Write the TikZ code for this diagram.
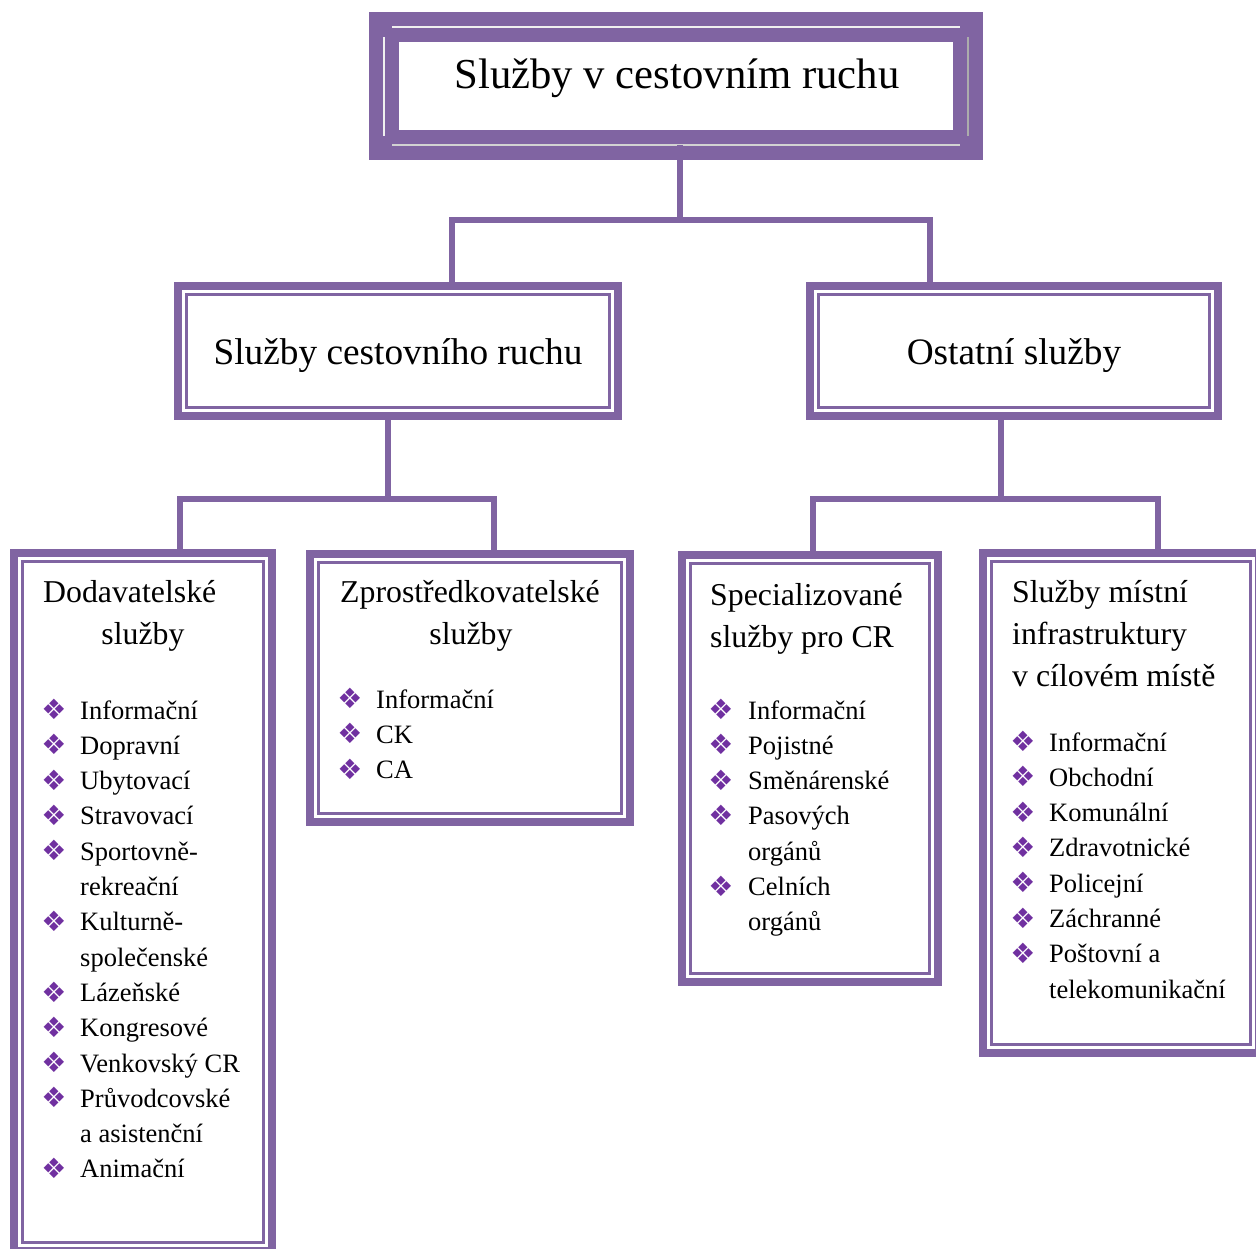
\documentclass[tikz,border=0pt]{standalone}
\usepackage{fontspec}
\setmainfont{Liberation Serif}
\newfontfamily\symfont{DejaVu Sans}
\definecolor{boxpurple}{HTML}{8064A2}
\definecolor{markpurple}{HTML}{7030A0}
\tikzset{
  outerbox/.style={draw=boxpurple, line width=8pt, fill=white, inner sep=0pt, outer sep=0pt},
  topbox/.style={draw=boxpurple, line width=30pt, fill=white, inner sep=0pt, outer sep=0pt},
  innerline/.style={draw=boxpurple, line width=2.5pt},
  hilite/.style={line width=2pt, white!88!gray},
  shade/.style={line width=2pt, gray!65},
  link/.style={draw=boxpurple, line width=6pt},
  titletext/.style={font=\fontsize{42.7}{50}\selectfont, anchor=base, inner sep=0pt},
  midtext/.style={font=\fontsize{37.3}{44}\selectfont, anchor=base, inner sep=0pt},
  headtext/.style={font=\fontsize{31.8}{42}\selectfont, inner sep=0pt},
  itemtext/.style={font=\fontsize{26.5}{35}\selectfont, anchor=base west, inner sep=0pt},
  diamondmark/.style={font=\symfont\fontsize{28}{28}\selectfont, text=markpurple, anchor=center, inner sep=0pt}
}

\begin{document}
\begin{tikzpicture}[x=1pt,y=1pt]
    \useasboundingbox (0,0) rectangle (1256,-1248);
    % boxes
    \node[topbox, minimum width=584pt, minimum height=118pt] (top) at (676,-86) {};
    \node[outerbox, minimum width=440pt, minimum height=130pt] (l2a) at (398,-351) {};
    \node[outerbox, minimum width=408pt, minimum height=130pt] (l2b) at (1014,-351) {};
    \node[outerbox, minimum width=258pt, minimum height=698pt] (d1) at (143,-902) {};
    \node[outerbox, minimum width=320pt, minimum height=268pt] (d2) at (470,-688) {};
    \node[outerbox, minimum width=256pt, minimum height=427pt] (d3) at (810,-768.5) {};
    \node[outerbox, minimum width=276pt, minimum height=500pt] (d4) at (1121,-803) {};
    \foreach \n in {l2a,l2b,d1,d2,d3,d4}
        \draw[innerline] ([shift={(8.5,-8.5)}]\n.north west) rectangle ([shift={(-8.5,8.5)}]\n.south east);
    % bevel of the top box
    \draw[hilite] ([xshift=8pt]top.north west) -- ([xshift=-8pt]top.north east);
    \draw[hilite] ([yshift=-10pt]top.north west) -- ([yshift=9pt]top.south west);
    \draw[shade] ([yshift=-10pt]top.north east) -- ([yshift=9pt]top.south east);
    \draw[hilite, gray!35] ([xshift=8pt]top.south west) -- ([xshift=-8pt]top.south east);

    % connectors
    \draw[link] ([xshift=4pt]top.south) -- ++(0,-75) coordinate (j1);
    \draw[link] ([xshift=54pt]l2a.north) |- (j1) -| ([xshift=-84pt]l2b.north);
    \draw[link] ([xshift=-10pt]l2a.south) -- ++(0,-83) coordinate (j2);
    \draw[link] ([xshift=37pt]d1.north) |- (j2) -| ([xshift=24pt]d2.north);
    \draw[link] ([xshift=-13pt]l2b.south) -- ++(0,-83) coordinate (j3);
    \draw[link] ([xshift=3pt]d3.north) |- (j3) -| ([xshift=37pt]d4.north);

    % titles
    \node[titletext] (ttop) at (677,-88) {Služby v cestovním ruchu};
    \node[midtext] (tl2a) at (398,-364) {Služby cestovního ruchu};
    \node[midtext] (tl2b) at (1014,-364) {Ostatní služby};
    \node[headtext, anchor=base west] (h1a) at (43,-602) {Dodavatelské};
    \node[headtext, anchor=base] (h1b) at (143,-644) {služby};
    \node[headtext, anchor=base] (h2a) at (470,-602) {Zprostředkovatelské};
    \node[headtext, anchor=base] (h2b) at (471,-644) {služby};
    \node[headtext, anchor=base west] (h3a) at (710,-605) {Specializované};
    \node[headtext, anchor=base west] (h3b) at (710,-647) {služby pro CR};
    \node[headtext, anchor=base west] (h4a) at (1012,-602) {Služby místní};
    \node[headtext, anchor=base west] (h4b) at (1012,-644) {infrastruktury};
    \node[headtext, anchor=base west] (h4c) at (1012,-686) {v cílovém místě};

    % lists
    \foreach \txt/\mk [count=\i from 0] in {Informační/1,Dopravní/1,Ubytovací/1,Stravovací/1,
        Sportovně-/1,rekreační/0,Kulturně-/1,společenské/0,Lázeňské/1,Kongresové/1,
        Venkovský CR/1,Průvodcovské/1,a asistenční/0,Animační/1} {
        \node[itemtext] (d1t\i) at (80,-719-35.3*\i) {\txt};
        \ifnum\mk=1 \node[diamondmark] (d1m\i) at (54,-709.5-35.3*\i) {❖}; \fi
    }
    \foreach \txt/\mk [count=\i from 0] in {Informační/1,CK/1,CA/1} {
        \node[itemtext] (d2t\i) at (376,-708-35.3*\i) {\txt};
        \ifnum\mk=1 \node[diamondmark] (d2m\i) at (350,-698.5-35.3*\i) {❖}; \fi
    }
    \foreach \txt/\mk [count=\i from 0] in {Informační/1,Pojistné/1,Směnárenské/1,
        Pasových/1,orgánů/0,Celních/1,orgánů/0} {
        \node[itemtext] (d3t\i) at (748,-719-35.3*\i) {\txt};
        \ifnum\mk=1 \node[diamondmark] (d3m\i) at (721,-709.5-35.3*\i) {❖}; \fi
    }
    \foreach \txt/\mk [count=\i from 0] in {Informační/1,Obchodní/1,Komunální/1,Zdravotnické/1,
        Policejní/1,Záchranné/1,Poštovní a/1,telekomunikační/0} {
        \node[itemtext] (d4t\i) at (1049,-751-35.3*\i) {\txt};
        \ifnum\mk=1 \node[diamondmark] (d4m\i) at (1023,-741.5-35.3*\i) {❖}; \fi
    }
\end{tikzpicture}
\end{document}
